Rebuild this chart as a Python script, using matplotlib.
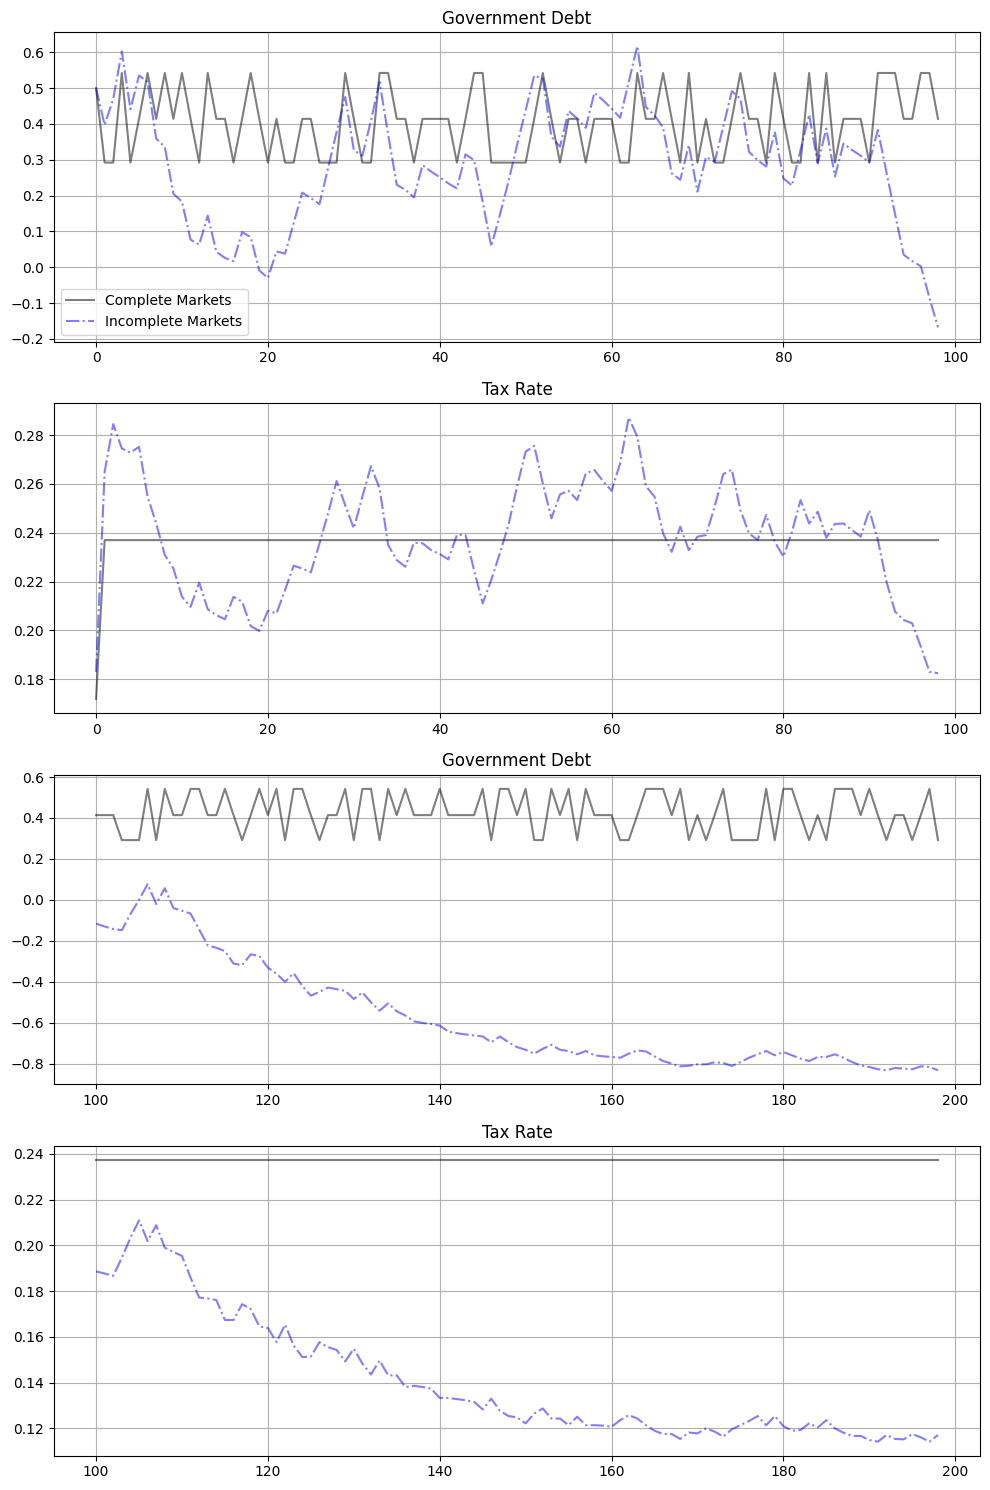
import numpy as np
import matplotlib
matplotlib.use("Agg")
import matplotlib.pyplot as plt

# -----------------------------
# Data
# -----------------------------
t1 = np.arange(0, 99)
t2 = np.arange(100, 199)

# Government debt, periods 0-98
debt_cm_1 = [0.500, 0.292, 0.292, 0.542, 0.292, 0.414, 0.542, 0.414, 0.542, 0.414,
             0.542, 0.414, 0.292, 0.542, 0.414, 0.414, 0.292, 0.414, 0.542, 0.414,
             0.292, 0.414, 0.292, 0.292, 0.414, 0.414, 0.292, 0.292, 0.292, 0.542,
             0.414, 0.292, 0.292, 0.542, 0.542, 0.414, 0.414, 0.292, 0.414, 0.414,
             0.414, 0.414, 0.292, 0.414, 0.542, 0.542, 0.292, 0.292, 0.292, 0.292,
             0.292, 0.414, 0.542, 0.414, 0.292, 0.414, 0.414, 0.292, 0.414, 0.414,
             0.414, 0.292, 0.292, 0.542, 0.414, 0.414, 0.542, 0.414, 0.292, 0.542,
             0.292, 0.414, 0.292, 0.292, 0.414, 0.542, 0.414, 0.414, 0.292, 0.542,
             0.414, 0.292, 0.292, 0.542, 0.292, 0.542, 0.292, 0.414, 0.414, 0.414,
             0.292, 0.542, 0.542, 0.542, 0.414, 0.414, 0.542, 0.542, 0.414]
debt_im_1 = [0.500, 0.397, 0.470, 0.602, 0.441, 0.535, 0.517, 0.359, 0.336, 0.205,
             0.183, 0.077, 0.063, 0.144, 0.043, 0.026, 0.017, 0.098, 0.084, -0.009,
             -0.030, 0.044, 0.038, 0.123, 0.208, 0.193, 0.176, 0.276, 0.378, 0.475,
             0.327, 0.311, 0.410, 0.517, 0.370, 0.230, 0.216, 0.195, 0.285, 0.267,
             0.251, 0.234, 0.220, 0.315, 0.299, 0.183, 0.058, 0.146, 0.239, 0.341,
             0.438, 0.535, 0.526, 0.364, 0.336, 0.436, 0.415, 0.389, 0.487, 0.466,
             0.443, 0.417, 0.517, 0.617, 0.447, 0.424, 0.390, 0.262, 0.244, 0.341,
             0.211, 0.308, 0.294, 0.392, 0.491, 0.470, 0.322, 0.299, 0.281, 0.378,
             0.248, 0.228, 0.327, 0.426, 0.290, 0.387, 0.253, 0.345, 0.327, 0.311,
             0.293, 0.383, 0.265, 0.148, 0.035, 0.017, 0.003, -0.085, -0.168]

# Tax rate, periods 0-98
tax_cm_1 = [0.172] + [0.237] * 98
tax_im_1 = [0.1830, 0.2650, 0.2845, 0.2745, 0.2728, 0.2752, 0.2548, 0.2438, 0.2309, 0.2254,
            0.2138, 0.2097, 0.2196, 0.2087, 0.2063, 0.2046, 0.2138, 0.2118, 0.2018, 0.1998,
            0.2081, 0.2070, 0.2166, 0.2265, 0.2254, 0.2238, 0.2356, 0.2479, 0.2612, 0.2513,
            0.2418, 0.2548, 0.2673, 0.2582, 0.2350, 0.2288, 0.2261, 0.2359, 0.2357, 0.2329,
            0.2313, 0.2291, 0.2391, 0.2391, 0.2247, 0.2111, 0.2207, 0.2316, 0.2432, 0.2589,
            0.2732, 0.2756, 0.2602, 0.2459, 0.2557, 0.2572, 0.2534, 0.2643, 0.2657, 0.2612,
            0.2572, 0.2684, 0.2872, 0.2793, 0.2591, 0.2548, 0.2398, 0.2322, 0.2425, 0.2329,
            0.2384, 0.2391, 0.2507, 0.2640, 0.2659, 0.2493, 0.2398, 0.2370, 0.2473, 0.2363,
            0.2302, 0.2404, 0.2534, 0.2438, 0.2486, 0.2380, 0.2436, 0.2438, 0.2411, 0.2384,
            0.2493, 0.2370, 0.2200, 0.2077, 0.2043, 0.2029, 0.1934, 0.1831, 0.1825]

# Government debt, periods 100-198
debt_cm_2 = [0.414, 0.414, 0.414, 0.292, 0.292, 0.292, 0.542, 0.292, 0.542, 0.414,
             0.414, 0.542, 0.542, 0.414, 0.414, 0.542, 0.414, 0.292, 0.414, 0.542,
             0.414, 0.542, 0.292, 0.542, 0.542, 0.414, 0.292, 0.414, 0.414, 0.542,
             0.292, 0.542, 0.542, 0.292, 0.542, 0.414, 0.542, 0.414, 0.414, 0.414,
             0.542, 0.414, 0.414, 0.414, 0.414, 0.542, 0.292, 0.542, 0.542, 0.414,
             0.542, 0.292, 0.292, 0.542, 0.414, 0.542, 0.292, 0.542, 0.414, 0.414,
             0.414, 0.292, 0.292, 0.414, 0.542, 0.542, 0.542, 0.414, 0.542, 0.292,
             0.414, 0.292, 0.414, 0.542, 0.292, 0.292, 0.292, 0.292, 0.542, 0.292,
             0.542, 0.542, 0.414, 0.292, 0.414, 0.292, 0.542, 0.542, 0.542, 0.414,
             0.542, 0.414, 0.292, 0.414, 0.414, 0.292, 0.414, 0.542, 0.292]
debt_im_2 = [-0.116, -0.130, -0.142, -0.148, -0.069, 0.000, 0.077, -0.020, 0.057, -0.040,
             -0.053, -0.067, -0.145, -0.222, -0.234, -0.250, -0.311, -0.319, -0.266, -0.274,
             -0.331, -0.360, -0.400, -0.358, -0.420, -0.468, -0.449, -0.428, -0.436, -0.444,
             -0.484, -0.452, -0.500, -0.541, -0.505, -0.544, -0.565, -0.593, -0.601, -0.606,
             -0.614, -0.643, -0.651, -0.657, -0.662, -0.667, -0.695, -0.667, -0.695, -0.719,
             -0.732, -0.751, -0.727, -0.708, -0.732, -0.738, -0.754, -0.738, -0.759, -0.764,
             -0.767, -0.771, -0.751, -0.735, -0.740, -0.764, -0.787, -0.800, -0.813, -0.810,
             -0.803, -0.803, -0.793, -0.796, -0.811, -0.792, -0.771, -0.754, -0.738, -0.759,
             -0.743, -0.759, -0.775, -0.787, -0.767, -0.767, -0.754, -0.771, -0.792, -0.808,
             -0.816, -0.827, -0.832, -0.821, -0.824, -0.827, -0.813, -0.816, -0.832]

# Tax rate, periods 100-198
tax_cm_2 = [0.2372] * 99
tax_im_2 = [0.1886, 0.1877, 0.1867, 0.1946, 0.2033, 0.2109, 0.2019, 0.2088, 0.1990, 0.1971,
            0.1954, 0.1859, 0.1772, 0.1768, 0.1761, 0.1674, 0.1674, 0.1743, 0.1722, 0.1646,
            0.1639, 0.1577, 0.1654, 0.1562, 0.1512, 0.1514, 0.1577, 0.1555, 0.1543, 0.1493,
            0.1548, 0.1483, 0.1436, 0.1497, 0.1432, 0.1432, 0.1381, 0.1386, 0.1381, 0.1374,
            0.1333, 0.1333, 0.1328, 0.1323, 0.1316, 0.1283, 0.1330, 0.1277, 0.1254, 0.1248,
            0.1222, 0.1265, 0.1287, 0.1243, 0.1243, 0.1214, 0.1251, 0.1214, 0.1214, 0.1212,
            0.1207, 0.1236, 0.1258, 0.1243, 0.1214, 0.1190, 0.1175, 0.1175, 0.1154, 0.1182,
            0.1178, 0.1200, 0.1186, 0.1164, 0.1196, 0.1214, 0.1232, 0.1254, 0.1214, 0.1254,
            0.1210, 0.1190, 0.1193, 0.1222, 0.1204, 0.1236, 0.1200, 0.1181, 0.1167, 0.1167,
            0.1149, 0.1142, 0.1171, 0.1154, 0.1152, 0.1175, 0.1161, 0.1142, 0.1171]

titles = ["Government Debt", "Tax Rate", "Government Debt", "Tax Rate"]

# -----------------------------
# Plot
# -----------------------------
fig, axes = plt.subplots(4, 1, figsize=(9.9, 14.9), dpi=100)

panels = [(t1, debt_cm_1, debt_im_1),
          (t1, tax_cm_1, tax_im_1),
          (t2, debt_cm_2, debt_im_2),
          (t2, tax_cm_2, tax_im_2)]

for ax, (t, cm, im), title in zip(axes, panels, titles):
    ax.plot(t, cm, '-k', alpha=0.5, label="Complete Markets")
    ax.plot(t, im, '-.b', alpha=0.5, label="Incomplete Markets")
    ax.set_title(title)
    ax.grid()

axes[0].legend(loc="lower left")

plt.subplots_adjust(left=0.0545, right=0.99, top=0.9785, bottom=0.023, hspace=0.2)
plt.savefig("out.png")
